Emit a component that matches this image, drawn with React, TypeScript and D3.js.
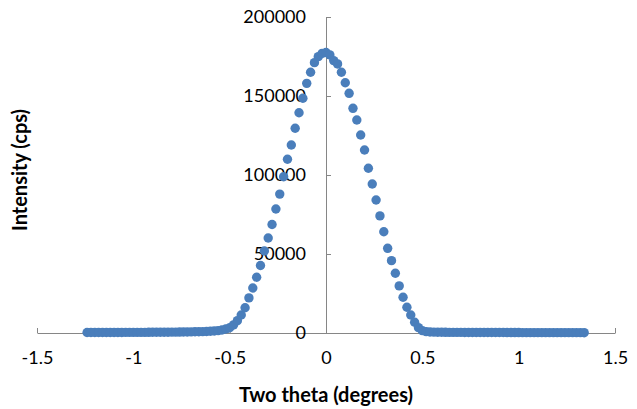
import React, { useEffect, useRef } from "react";
import * as d3 from "d3";

// two theta grid (degrees) and measured intensity (cps)
const twoTheta = [
  -1.24, -1.22, -1.2, -1.18, -1.16, -1.14, -1.12, -1.1, -1.08, -1.06,
  -1.04, -1.02, -1.0, -0.98, -0.96, -0.94, -0.92, -0.9, -0.88, -0.86,
  -0.84, -0.82, -0.8, -0.78, -0.76, -0.74, -0.72, -0.7, -0.68, -0.66,
  -0.64, -0.62, -0.6, -0.58,
  -0.56, -0.54, -0.52, -0.5, -0.48, -0.46, -0.44, -0.42, -0.4, -0.38,
  -0.36, -0.34, -0.32, -0.3, -0.28, -0.26, -0.24, -0.22, -0.2, -0.18,
  -0.16, -0.14, -0.12, -0.1, -0.08, -0.06, -0.04, -0.02, 0.0, 0.02,
  0.04, 0.06, 0.08, 0.1, 0.12, 0.14, 0.16, 0.18, 0.2, 0.22,
  0.24, 0.26, 0.28, 0.3, 0.32, 0.34, 0.36, 0.38, 0.4, 0.42,
  0.44, 0.46, 0.48, 0.5, 0.52, 0.54,
  0.56, 0.58, 0.6, 0.62, 0.64, 0.66, 0.68, 0.7, 0.72, 0.74,
  0.76, 0.78, 0.8, 0.82, 0.84, 0.86, 0.88, 0.9, 0.92, 0.94,
  0.96, 0.98, 1.0, 1.02, 1.04, 1.06, 1.08, 1.1, 1.12, 1.14,
  1.16, 1.18, 1.2, 1.22, 1.24, 1.26, 1.28, 1.3, 1.32, 1.34,
];

const intensity = [
  300, 300, 320, 310, 330, 340, 330, 350, 360, 350,
  370, 380, 390, 400, 410, 420, 440, 450, 470, 480,
  500, 520, 540, 570, 600, 630, 670, 710, 760, 820,
  890, 980, 1090, 1250,
  1500, 1900, 2500, 3300, 5100, 7800, 11400, 16000, 22200, 28500,
  35300, 42700, 51900, 60100, 68700, 78500, 87900, 98900, 110000, 119000,
  129600, 139400, 148600, 158000, 165000, 171100, 174900, 177000, 177500, 176000,
  172400, 170300, 165000, 158400, 151700, 142200, 134800, 125300, 115800, 104300,
  94300, 84200, 74100, 64100, 53600, 45800, 37800, 29800, 22600, 16300,
  11400, 6800, 3400, 1500, 900, 650,
  550, 500, 460, 430, 410, 390, 380, 370, 360, 350,
  340, 330, 330, 320, 310, 300, 300, 290, 290, 280,
  280, 270, 270, 260, 260, 250, 250, 240, 240, 240,
  230, 230, 230, 220, 220, 220, 210, 210, 210, 200,
];

const xTicks = [-1.5, -1, -0.5, 0, 0.5, 1, 1.5];
const yTicks = [0, 50000, 100000, 150000, 200000];

const W = 637;
const H = 409;
const axisColor = "#868686";
const dotColor = "#4a7ebb";
const font = "Lato, 'Open Sans', sans-serif";

export default function App() {
  const svgRef = useRef<SVGSVGElement>(null);

  useEffect(() => {
    document.body.style.margin = "0";
    const svg = d3.select(svgRef.current);
    svg.selectAll("*").remove();

    const x = d3.scaleLinear().domain([-1.5, 1.5]).range([37, 615]);
    const y = d3.scaleLinear().domain([0, 200000]).range([333, 17]);

    // x axis, crossing at y = 0
    const gx = svg
      .append("g")
      .attr("transform", `translate(0, ${y(0)})`)
      .call(
        d3
          .axisBottom(x)
          .tickValues(xTicks)
          .tickFormat((d) => String(d))
          .tickSizeInner(-5)
          .tickSizeOuter(0)
          .tickPadding(18)
      );

    // y axis, crossing at x = 0
    const gy = svg
      .append("g")
      .attr("transform", `translate(${x(0)}, 0)`)
      .call(
        d3
          .axisLeft(y)
          .tickValues(yTicks)
          .tickFormat((d) => String(d))
          .tickSizeInner(-5)
          .tickSizeOuter(0)
          .tickPadding(20)
      );

    [gx, gy].forEach((g) => {
      g.selectAll("path, line").attr("stroke", axisColor);
      g.selectAll("text")
        .attr("fill", "#000")
        .style("font-family", font)
        .style("font-size", "18px");
      g.attr("font-family", null);
    });

    // points
    svg
      .append("g")
      .selectAll("circle")
      .data(twoTheta)
      .enter()
      .append("circle")
      .attr("cx", (d) => x(d))
      .attr("cy", (d, i) => y(intensity[i]))
      .attr("r", 4.7)
      .attr("fill", dotColor);

    // axis titles
    svg
      .append("text")
      .attr("x", x(0))
      .attr("y", 402)
      .attr("text-anchor", "middle")
      .style("font-family", font)
      .style("font-size", "20px")
      .style("font-weight", "bold")
      .text("Two theta (degrees)");

    svg
      .append("text")
      .attr("transform", `translate(27, 170) rotate(-90)`)
      .attr("text-anchor", "middle")
      .style("font-family", font)
      .style("font-size", "20px")
      .style("font-weight", "bold")
      .text("Intensity (cps)");
  }, []);

  return (
    <svg
      ref={svgRef}
      width={W}
      height={H}
      style={{ display: "block", background: "#fff" }}
    />
  );
}
